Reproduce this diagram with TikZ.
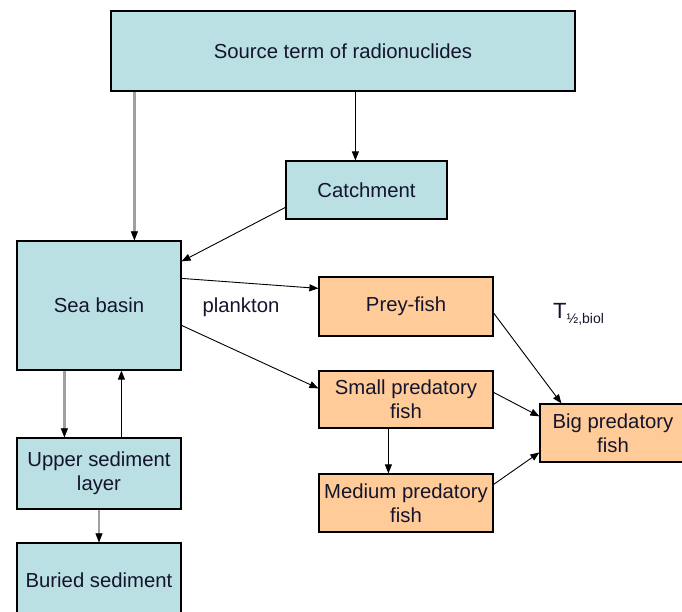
\documentclass[tikz,border=0pt]{standalone}
\usepackage{fontspec}
\setmainfont{Liberation Sans}
\usetikzlibrary{arrows.meta}
\definecolor{bluebox}{RGB}{186,224,228}
\definecolor{orangebox}{RGB}{255,204,153}
\definecolor{txt}{RGB}{20,20,45}
\definecolor{grayline}{RGB}{160,160,160}
\tikzset{
  box/.style={draw=black, line width=1.2pt, fill=bluebox, text=txt, align=center, inner sep=0pt,
    font=\fontsize{20.3}{24}\selectfont},
  fishbox/.style={box, fill=orangebox},
  blackarrow/.style={draw=black, line width=0.9pt, -{Triangle[length=9pt,width=7pt]}},
  grayarrow/.style={draw=grayline, line width=2.2pt, -{Triangle[length=9pt,width=7pt,line width=0.5pt,color=black,fill=black]}},
  lbl/.style={text=txt, inner sep=0pt, font=\fontsize{20.3}{24}\selectfont}
}
\begin{document}
\begin{tikzpicture}[x=1pt,y=-1pt]
\useasboundingbox (0,0) rectangle (682,612);
\node[box, minimum width=464pt, minimum height=80pt] (src) at (343,51) {Source term of radionuclides};
\node[box, minimum width=161pt, minimum height=58pt] (catch) at (366.5,190) {Catchment};
\node[box, minimum width=164pt, minimum height=129pt] (sea) at (99,305.5) {Sea basin};
\node[box, minimum width=164pt, minimum height=71pt] (upper) at (99,473.5) {Upper sediment\\layer};
\node[box, minimum width=164pt, minimum height=74pt] (buried) at (99,580) {Buried sediment};
\node[fishbox, minimum width=174pt, minimum height=59pt] (prey) at (406,306.5) {Prey-fish};
\node[fishbox, minimum width=174pt, minimum height=57pt] (small) at (406,399.5) {Small predatory\\fish};
\node[fishbox, minimum width=174pt, minimum height=58pt] (medium) at (406,503) {Medium predatory\\fish};
\node[fishbox, minimum width=146pt, minimum height=58pt] (big) at (613,433) {Big predatory\\fish};
\node[lbl] (plank) at (241,307) {plankton};
\node[lbl, anchor=base west] (thalf) at (553,318) {\fontsize{22}{24}\selectfont T\raisebox{-5pt}{\fontsize{14}{16}\selectfont ½,biol}};
% connectors
\draw[grayarrow] ([xshift=24pt]src.south west) -- ([xshift=24pt]src.south west |- sea.north);
\draw[blackarrow] ([xshift=245pt]src.south west) -- ([xshift=245pt]src.south west |- catch.north);
\draw[blackarrow] ([yshift=-47pt]catch.north west) -- ([yshift=-21pt]sea.north east);
\draw[blackarrow] ([yshift=-38pt]sea.north east) -- ([yshift=-12pt]prey.north west);
\draw[blackarrow] ([yshift=-85pt]sea.north east) -- ([yshift=-18pt]small.north west);
\draw[grayarrow] ([xshift=48pt]sea.south west) -- ([xshift=48pt]sea.south west |- upper.north);
\draw[blackarrow] ([xshift=105pt]upper.north west) -- ([xshift=105pt]upper.north west |- sea.south);
\draw[grayarrow] (upper.south) -- (buried.north);
\draw[blackarrow] ([yshift=-6.5pt]prey.east) -- ([xshift=22pt]big.north west);
\draw[blackarrow] ([yshift=-22pt]small.north east) -- ([yshift=-13pt]big.north west);
\draw[blackarrow] ([xshift=70pt]small.south west) -- ([xshift=70pt]small.south west |- medium.north);
\draw[blackarrow] ([yshift=-11pt]medium.north east) -- ([yshift=-49pt]big.north west);
\end{tikzpicture}
\end{document}
